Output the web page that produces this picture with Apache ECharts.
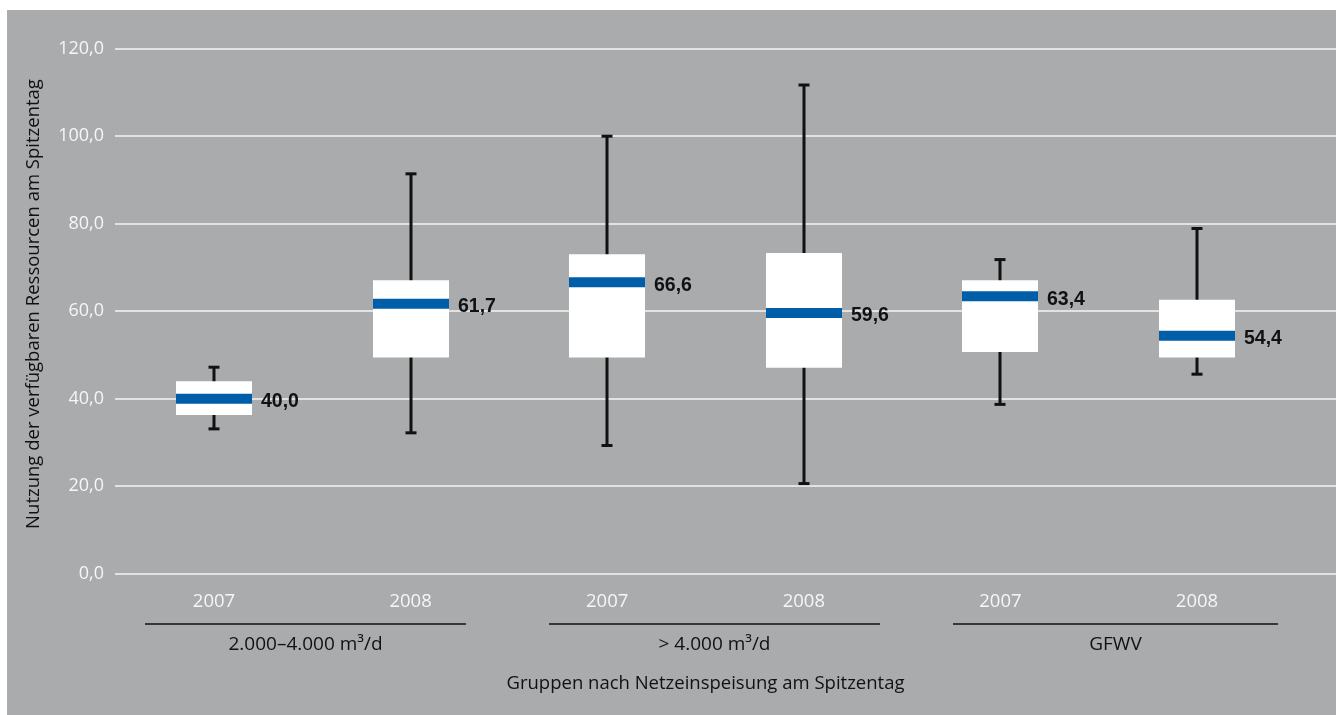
<!DOCTYPE html>
<html>
<head>
<meta charset="utf-8">
<script src="https://cdn.jsdelivr.net/npm/echarts@6/dist/echarts.min.js"></script>
<style>
html,body{margin:0;padding:0;background:#fff;width:1336px;height:715px;overflow:hidden;}
#chart{position:absolute;left:7px;top:10px;width:1329px;height:705px;}
</style>
</head>
<body>
<div id="chart"></div>
<script>
const categories = ['2007', '2008', '2007', '2008', '2007', '2008'];
const groups = ['2.000–4.000 m³/d', '> 4.000 m³/d', 'GFWV'];
const lowVals    = [33.1, 32.2, 29.3, 20.6, 38.7, 45.6];
const q1Vals     = [36.3, 49.4, 49.4, 47.1, 50.7, 49.4];
const medianVals = [40.0, 61.7, 66.6, 59.6, 63.4, 54.4];
const q3Vals     = [44.0, 67.1, 73.0, 73.3, 67.1, 62.6];
const highVals   = [47.2, 91.4, 100.0, 111.7, 71.8, 78.9];
const yMin = 0, yMax = 120, yStep = 20;
const yTitle = 'Nutzung der verfügbaren Ressourcen am Spitzentag';
const xTitle = 'Gruppen nach Netzeinspeisung am Spitzentag';

const FONT = 'Open Sans';
const BOLD = 'Liberation Sans';
const fmt = v => v.toFixed(1).replace('.', ',');

const boxData = categories.map((c, i) => [i, lowVals[i], q1Vals[i], medianVals[i], q3Vals[i], highVals[i]]);

const chart = echarts.init(document.getElementById('chart'), null, {renderer: 'canvas'});

function renderBox(params, api) {
  const i = api.value(0);
  const low = api.coord([i, api.value(1)]);
  const q1 = api.coord([i, api.value(2)]);
  const med = api.coord([i, api.value(3)]);
  const q3 = api.coord([i, api.value(4)]);
  const high = api.coord([i, api.value(5)]);
  const cx = Math.round(low[0]);
  const band = api.size([1, 0])[0];
  const boxW = band * 0.3866;
  const capW = 11, bandH = 10;
  return {
    type: 'group',
    children: [
      {type: 'line', shape: {x1: cx, y1: high[1], x2: cx, y2: low[1]}, style: {stroke: '#111', lineWidth: 3}},
      {type: 'line', shape: {x1: cx - capW / 2, y1: high[1], x2: cx + capW / 2, y2: high[1]}, style: {stroke: '#111', lineWidth: 3}},
      {type: 'line', shape: {x1: cx - capW / 2, y1: low[1], x2: cx + capW / 2, y2: low[1]}, style: {stroke: '#111', lineWidth: 3}},
      {type: 'rect', shape: {x: cx - boxW / 2, y: q3[1], width: boxW, height: q1[1] - q3[1]}, style: {fill: '#ffffff'}},
      {type: 'rect', shape: {x: cx - boxW / 2, y: med[1] - bandH / 2, width: boxW, height: bandH}, style: {fill: '#005DA8'}},
      {type: 'text', x: cx + boxW / 2 + 9, y: med[1] + 3,
        style: {text: fmt(api.value(3)), fill: '#111', font: 'bold 19.5px "' + BOLD + '"', verticalAlign: 'middle', align: 'left'}}
    ]
  };
}

const option = {
  backgroundColor: '#aaabad',
  animation: false,
  textStyle: {fontFamily: FONT},
  grid: [
    {left: 108, right: 0, top: 38.7, bottom: 141.3, containLabel: false},
    {left: 108.7, width: 1179.6, top: 38.7, bottom: 141.3, containLabel: false}
  ],
  xAxis: [
    {type: 'value', gridIndex: 0, show: false, min: 0, max: 1},
    {
      type: 'category', gridIndex: 1, data: categories,
      axisLine: {show: false}, axisTick: {show: false},
      axisLabel: {color: '#f6f6f6', fontSize: 18.5, margin: 19, fontFamily: FONT},
      name: xTitle, nameLocation: 'middle', nameGap: 101,
      nameTextStyle: {color: '#111', fontSize: 18.5, fontFamily: FONT}
    }
  ],
  yAxis: [
    {
      type: 'value', gridIndex: 0, min: yMin, max: yMax, interval: yStep,
      axisLine: {show: false}, axisTick: {show: false},
      axisLabel: {color: '#f6f6f6', fontSize: 18, margin: 11, formatter: v => fmt(v), fontFamily: FONT},
      splitLine: {show: true, lineStyle: {color: '#f4f4f4', width: 1.5}}
    },
    {type: 'value', gridIndex: 1, min: yMin, max: yMax, interval: yStep, show: false, splitLine: {show: false}}
  ],
  series: [{
    type: 'custom',
    xAxisIndex: 1, yAxisIndex: 1,
    data: boxData,
    encode: {x: 0, y: [1, 2, 3, 4, 5]},
    renderItem: renderBox,
    z: 5
  }],
  graphic: []
};

chart.setOption(option);

// group separators and labels beneath pairs of categories, plus rotated y title
const groupSpans = [[138, 459], [542, 873], [946, 1271]];
const lineY = 614, labelY = 635;
const gfx = [];
groups.forEach((g, k) => {
  const [x1, x2] = groupSpans[k];
  gfx.push({type: 'line', shape: {x1: x1, y1: lineY, x2: x2, y2: lineY}, style: {stroke: '#111', lineWidth: 1.5}, silent: true});
  gfx.push({type: 'text', x: (x1 + x2) / 2, y: labelY,
    style: {text: g, fill: '#111', font: '19px "' + FONT + '"', align: 'center', verticalAlign: 'middle'}, silent: true});
});
gfx.push({type: 'text', x: 27, y: 294, rotation: Math.PI / 2,
  style: {text: yTitle, fill: '#111', font: '18.5px "' + FONT + '"', align: 'center', verticalAlign: 'middle'}, silent: true});
chart.setOption({graphic: gfx});
</script>
</body>
</html>
